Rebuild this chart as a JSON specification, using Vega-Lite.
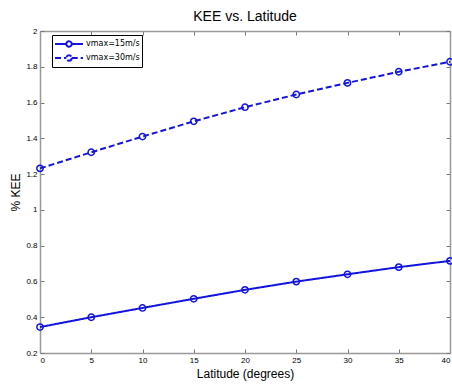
{
  "$schema": "https://vega.github.io/schema/vega-lite/v6.json",
  "width": 410,
  "height": 322,
  "autosize": {"type": "none"},
  "padding": {"left": 40, "top": 31, "right": 2, "bottom": 32},
  "background": "white",
  "title": {"text": "KEE vs. Latitude", "fontSize": 14, "fontWeight": "normal", "font": "Liberation Sans", "color": "#000", "offset": 3, "anchor": "middle"},
  "config": {
    "view": {"stroke": null},
    "axis": {"labelFont": "Liberation Sans", "titleFont": "Liberation Sans", "labelFontSize": 8, "labelColor": "#000", "titleColor": "#000", "titleFontWeight": "normal", "titleFontSize": 12, "domainColor": "#999", "domainWidth": 1.5, "tickColor": "#777", "grid": false, "tickSize": -4, "labelPadding": 7}
  },
  "data": {"values": [
    {"lat": 0, "kee": 0.345, "series": "vmax=15m/s"},
    {"lat": 5, "kee": 0.400, "series": "vmax=15m/s"},
    {"lat": 10, "kee": 0.452, "series": "vmax=15m/s"},
    {"lat": 15, "kee": 0.503, "series": "vmax=15m/s"},
    {"lat": 20, "kee": 0.553, "series": "vmax=15m/s"},
    {"lat": 25, "kee": 0.599, "series": "vmax=15m/s"},
    {"lat": 30, "kee": 0.640, "series": "vmax=15m/s"},
    {"lat": 35, "kee": 0.680, "series": "vmax=15m/s"},
    {"lat": 40, "kee": 0.715, "series": "vmax=15m/s"},
    {"lat": 0, "kee": 1.232, "series": "vmax=30m/s"},
    {"lat": 5, "kee": 1.322, "series": "vmax=30m/s"},
    {"lat": 10, "kee": 1.410, "series": "vmax=30m/s"},
    {"lat": 15, "kee": 1.495, "series": "vmax=30m/s"},
    {"lat": 20, "kee": 1.574, "series": "vmax=30m/s"},
    {"lat": 25, "kee": 1.645, "series": "vmax=30m/s"},
    {"lat": 30, "kee": 1.710, "series": "vmax=30m/s"},
    {"lat": 35, "kee": 1.772, "series": "vmax=30m/s"},
    {"lat": 40, "kee": 1.828, "series": "vmax=30m/s"}
  ]},
  "layer": [
    {
      "mark": {"type": "line", "color": "#1414e0", "strokeWidth": 2},
      "encoding": {
        "x": {"field": "lat", "type": "quantitative", "scale": {"domain": [0, 40], "nice": false, "zero": false}, "axis": {"title": "Latitude (degrees)", "values": [0,5,10,15,20,25,30,35,40], "titlePadding": 4}},
        "y": {"field": "kee", "type": "quantitative", "scale": {"domain": [0.2, 2], "nice": false, "zero": false}, "axis": {"title": "% KEE", "values": [0.2,0.4,0.6,0.8,1,1.2,1.4,1.6,1.8,2], "format": ".1~f", "titlePadding": 3}},
        "strokeDash": {
          "field": "series", "type": "nominal",
          "scale": {"domain": ["vmax=15m/s", "vmax=30m/s"], "range": [[1, 0], [6, 3]]},
          "legend": {
            "title": null, "orient": "none", "legendX": 12, "legendY": 4,
            "direction": "vertical",
            "symbolType": "M-2.33,0H-0.45M0.45,0H2.33M0.45,0A0.45,0.45,0,1,1,-0.45,0A0.45,0.45,0,1,1,0.45,0",
            "symbolSize": 144, "symbolStrokeColor": "#1414e0", "symbolStrokeWidth": 2, "symbolFillColor": "transparent",
            "symbolOffset": 8, "labelOffset": 10, "rowPadding": 0,
            "labelFont": "DejaVu Sans", "labelFontSize": 8, "labelColor": "#000",
            "strokeColor": "#000", "fillColor": "white", "padding": 2
          }
        }
      }
    },
    {
      "mark": {"type": "point", "shape": "circle", "filled": false, "color": "#1414e0", "strokeWidth": 1.5, "size": 40, "opacity": 1},
      "encoding": {
        "x": {"field": "lat", "type": "quantitative", "axis": null},
        "y": {"field": "kee", "type": "quantitative", "axis": null}
      }
    },
    {
      "mark": {"type": "point", "opacity": 0},
      "encoding": {
        "x": {"field": "lat", "type": "quantitative", "axis": {"orient": "top", "labels": false, "title": null, "values": [0,5,10,15,20,25,30,35,40]}},
        "y": {"field": "kee", "type": "quantitative", "axis": {"orient": "right", "labels": false, "title": null, "values": [0.2,0.4,0.6,0.8,1,1.2,1.4,1.6,1.8,2]}}
      }
    }
  ],
  "resolve": {"axis": {"x": "independent", "y": "independent"}}
}
